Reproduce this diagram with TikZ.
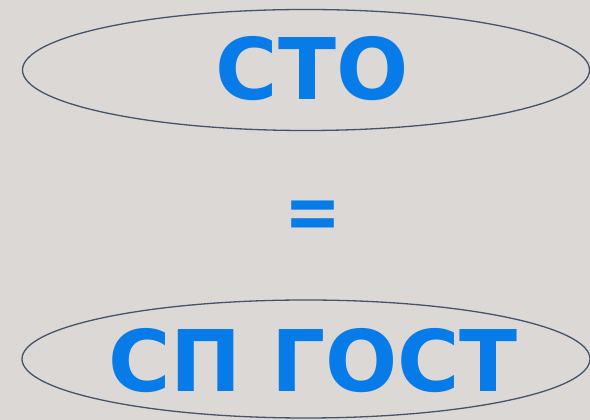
\documentclass[tikz,border=0pt]{standalone}
\usepackage{fontspec}
\setmainfont{DejaVu Sans}
\usetikzlibrary{positioning,shapes.geometric}
\definecolor{bgcol}{HTML}{DCD8D5}
\definecolor{textblue}{HTML}{077BE8}
\definecolor{ringcol}{HTML}{44546A}

\begin{document}
\begin{tikzpicture}[
    x=1pt, y=1pt,
    ring_node/.style={draw=ringcol, line width=1.3pt, ellipse, inner sep=0pt},
    word_node/.style={text=textblue, font=\bfseries\fontsize{85}{85}\selectfont, inner sep=0pt, anchor=center}
]

% --- BACKGROUND ---
\fill[bgcol] (0,0) rectangle (590,420);
\useasboundingbox (0,0) rectangle (590,420);

% --- NODES ---
\node[ring_node, minimum width=567pt, minimum height=121pt] (ring_top) at (306,350) {};
\node[ring_node, minimum width=568pt, minimum height=118pt] (ring_bottom) at (306,61) {};

\node[word_node] (sto) at (312,351) {СТО};
\node[word_node, font=\bfseries\fontsize{80}{80}\selectfont, xscale=0.85] (eq) at (313,200) {=};
\node[word_node] (spgost) at (313,59) {СП ГОСТ};

\end{tikzpicture}
\end{document}
